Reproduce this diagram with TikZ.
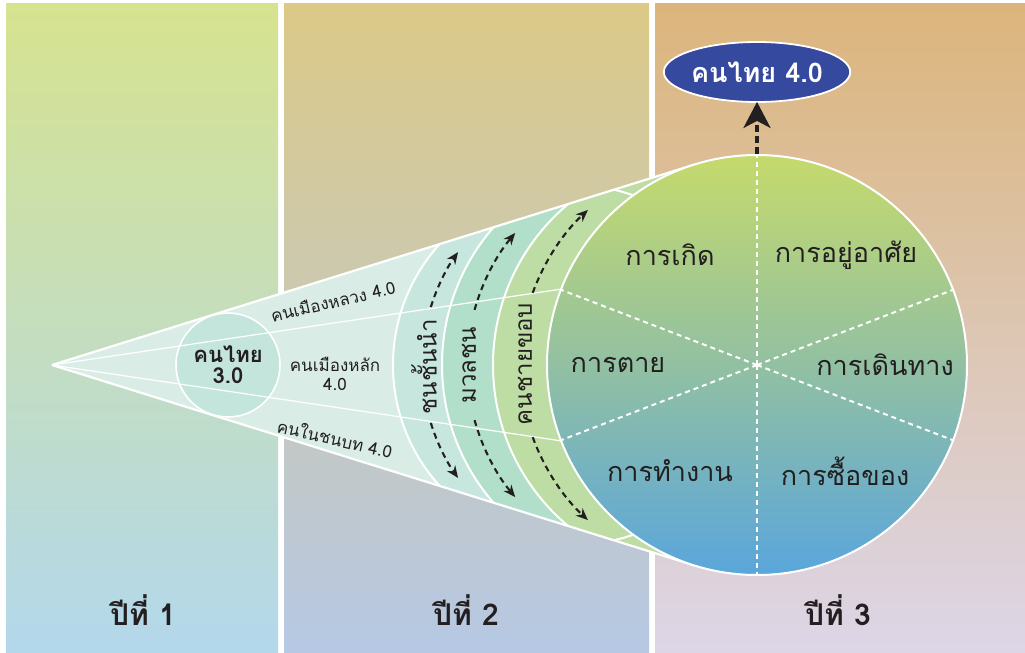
\documentclass[tikz,border=0pt]{standalone}
\usepackage{fontspec}
\setmainfont[Script=Thai]{Loma}
\usetikzlibrary{arrows.meta,shapes.geometric,calc}
\definecolor{cAt}{HTML}{D6E38F}
\definecolor{cAb}{HTML}{B3D8EC}
\definecolor{cBt}{HTML}{DCC987}
\definecolor{cBb}{HTML}{B6C8E4}
\definecolor{cCt}{HTML}{DCB57B}
\definecolor{cCb}{HTML}{DDD6E8}
\definecolor{conebase}{HTML}{D9EDE6}
\definecolor{bandA}{HTML}{C6E6DE}
\definecolor{bandB}{HTML}{B2DFC9}
\definecolor{bandC}{HTML}{BDDDA4}
\definecolor{smallfill}{HTML}{C3E5DC}
\definecolor{circtop}{HTML}{C5DA6C}
\definecolor{circmid}{HTML}{92C0A2}
\definecolor{circbot}{HTML}{5AA6DC}
\definecolor{navy}{HTML}{354A9E}
\definecolor{ink}{HTML}{231F20}
\begin{document}
\begin{tikzpicture}[x=1pt,y=-1pt,
  edgeline/.style={white,line width=2.2pt},
  thinline/.style={white,line width=1.2pt},
  arcline/.style={white,line width=2pt},
  bandarrow/.style={ink,line width=2.1pt,dash pattern=on 6pt off 4.5pt,-{Stealth[length=12pt,width=10pt]}},
  bigarrow/.style={ink,line width=3.8pt,dash pattern=on 7pt off 4pt,-{Stealth[length=26pt,width=27pt,inset=7pt]},shorten >=-1pt},
  sectorline/.style={white,line width=2pt,dash pattern=on 5pt off 4pt},
  conetxt/.style={text=ink,font=\fontsize{17}{19}\selectfont,inner sep=0pt,align=center},
  bandtxt/.style={text=ink,font=\fontsize{24}{26}\selectfont,inner sep=0pt,rotate=90},
  sectortxt/.style={text=ink,font=\fontsize{27}{29}\selectfont,inner sep=0pt},
  yeartxt/.style={text=ink,font=\bfseries\fontsize{30}{32}\selectfont,inner sep=0pt}]
\useasboundingbox (0,0) rectangle (1025,653);
\fill[white] (0,0) rectangle (1025,653);
\shade[top color=cAt,bottom color=cAb] (6,3) rectangle (278,653);
\shade[top color=cBt,bottom color=cBb] (284,3) rectangle (649,653);
\shade[top color=cCt,bottom color=cCb] (655,3) rectangle (1025,653);
\coordinate (apex) at (52,365);
\coordinate (T1) at (694.4,164.6);
\coordinate (T2) at (694.4,565.4);
\coordinate (cc) at (757,365);
\coordinate (up) at (562,289);
\coordinate (dn) at (562,441);
\begin{scope}
  \clip (apex) -- (T1) -- (cc) -- (T2) -- cycle;
  \fill[conebase] (apex) -- (T1) -- (cc) -- (T2) -- cycle;
  \fill[bandA] (573,365) circle (180);
  \fill[bandB] (652,365) circle (210);
  \fill[bandC] (703,365) circle (210);
  \draw[arcline] (573,365) circle (180);
  \draw[arcline] (652,365) circle (210);
  \draw[arcline] (703,365) circle (210);
  \node[circle,fill=smallfill,draw=white,line width=1.6pt,minimum size=104pt,inner sep=0pt] (sc) at (228,365) {};
  \draw[thinline] (apex) -- (up);
  \draw[thinline] (apex) -- (dn);
\end{scope}
\draw[edgeline] (apex) -- (T1);
\draw[edgeline] (apex) -- (T2);
\node[circle,draw=white,line width=2pt,minimum size=420pt,inner sep=0pt,
  top color=circtop,bottom color=circbot,middle color=circmid] (bigc) at (cc) {};
\foreach \a in {90,21,-21,159,-159,-90} \draw[sectorline] (bigc.center) -- (bigc.\a);
% labels in cone
\node[text=ink,font=\bfseries\fontsize{22}{21}\selectfont,inner sep=0pt,align=center] (k3) at (sc) {คนไทย\\3.0};
\node[conetxt,rotate=13] (capital) at (333,301) {คนเมืองหลวง 4.0};
\node[conetxt] (major) at (335,374) {คนเมืองหลัก\\4.0};
\node[conetxt,rotate=-13] (rural) at (335,438) {คนในชนบท 4.0};
% bands
\node[bandtxt] (elite) at (424,367) {ชนชั้นนำ};
\node[bandtxt] (mass) at (469,365) {มวลชน};
\node[bandtxt] (margin) at (525,364) {คนชายขอบ};
\draw[bandarrow] ($(617,365)+(-162.7:195)$) arc[start angle=-162.7,end angle=-144.6,radius=195];
\draw[bandarrow] ($(617,365)+(162.7:195)$) arc[start angle=162.7,end angle=144.6,radius=195];
\draw[bandarrow] ($(672,365)+(-164.4:205)$) arc[start angle=-164.4,end angle=-139.9,radius=205];
\draw[bandarrow] ($(672,365)+(164.4:205)$) arc[start angle=164.4,end angle=139.9,radius=205];
\draw[bandarrow] ($(731,365)+(-160:211)$) arc[start angle=-160,end angle=-132.7,radius=211];
\draw[bandarrow] ($(731,365)+(160:211)$) arc[start angle=160,end angle=132.7,radius=211];
% sectors
\node[sectortxt] (birth) at (670,255) {การเกิด};
\node[sectortxt] (dwell) at (846,255) {การอยู่อาศัย};
\node[sectortxt] (death) at (618,365) {การตาย};
\node[sectortxt] (travel) at (885,365) {การเดินทาง};
\node[sectortxt] (work) at (670,471) {การทำงาน};
\node[sectortxt] (shop) at (845,471) {การซื้อของ};
% top ellipse
\node[ellipse,fill=navy,draw=white,line width=1.8pt,minimum width=178pt,minimum height=60pt,inner sep=0pt,
  text=white,font=\bfseries\fontsize{27}{28}\selectfont] (k4) at (757,72) {คนไทย 4.0};
\draw[bigarrow] (bigc.north) -- (k4.south);
% years
\node[yeartxt] (y1) at (143,610) {ปีที่ 1};
\node[yeartxt] (y2) at (466,610) {ปีที่ 2};
\node[yeartxt] (y3) at (838,610) {ปีที่ 3};
\end{tikzpicture}
\end{document}
